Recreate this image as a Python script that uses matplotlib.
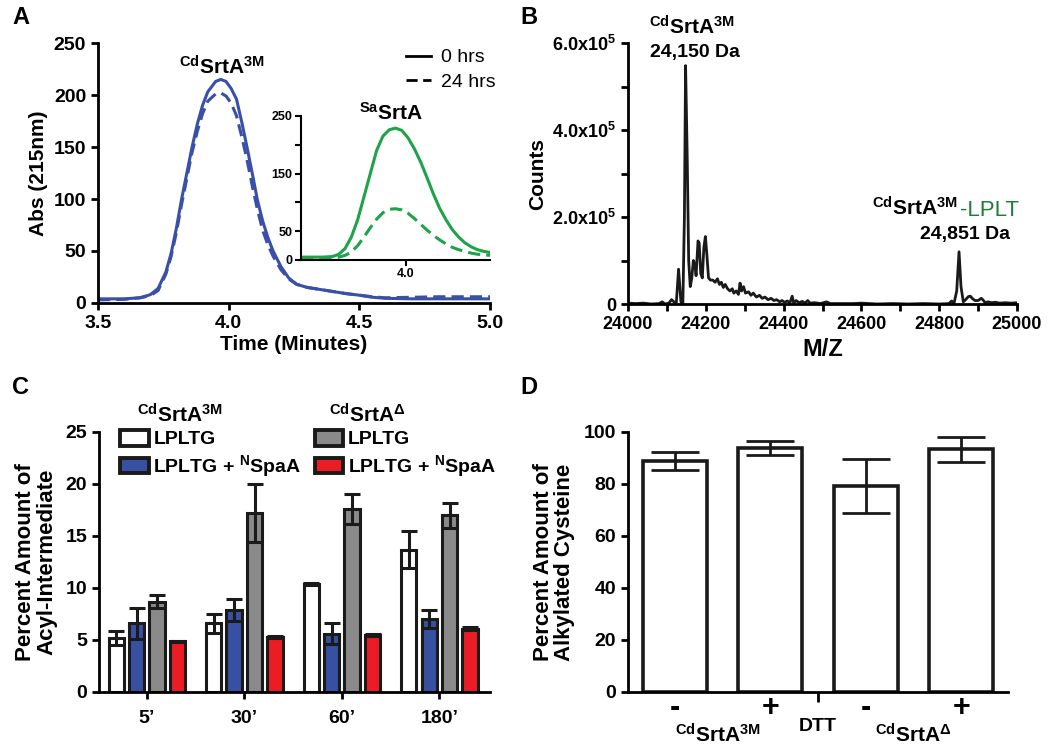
import numpy as np
import matplotlib
matplotlib.use('Agg')
import matplotlib.pyplot as plt
from matplotlib.lines import Line2D
from matplotlib.patches import Patch

plt.rcParams['font.family'] = ['Liberation Sans', 'DejaVu Sans']
plt.rcParams['font.weight'] = 'bold'
plt.rcParams['axes.labelweight'] = 'bold'
plt.rcParams['mathtext.fontset'] = 'custom'
plt.rcParams['mathtext.rm'] = 'Liberation Sans'
plt.rcParams['mathtext.bf'] = 'Liberation Sans:bold'
plt.rcParams['mathtext.default'] = 'bf'

## ---------- data: panel A (HPLC traces) ----------
a_time_0h = [3.50, 3.60, 3.66, 3.70, 3.73, 3.76, 3.78, 3.80, 3.82, 3.84, 3.86, 3.88, 3.90,
             3.92, 3.95, 3.97, 3.99, 4.01, 4.03, 4.05, 4.07, 4.09, 4.11, 4.13, 4.15, 4.17,
             4.20, 4.23, 4.26, 4.30, 4.35, 4.40, 4.45, 4.50, 4.55, 4.60, 4.70, 4.80, 4.90, 5.00]
a_abs_0h = [4, 4, 5, 8, 14, 30, 48, 72, 100, 125, 150, 172, 190,
            203, 213, 215, 213, 206, 196, 174, 150, 125, 99, 79, 63, 50,
            35, 24, 18, 15, 13, 11, 9, 7.5, 5.5, 4.5, 4, 4, 4, 4]
a_time_24h = a_time_0h
a_abs_24h = [3, 3.5, 5, 7, 12, 28, 45, 68, 95, 120, 145, 165, 182,
             194, 201, 202, 199, 192, 180, 160, 138, 113, 90, 70, 56, 45,
             32, 23, 18, 15, 13, 11, 9, 7.5, 6, 5, 5.5, 6, 6, 6]

sa_time = [3.50, 3.60, 3.65, 3.68, 3.71, 3.74, 3.77, 3.80, 3.83, 3.86, 3.89, 3.92, 3.95,
           3.98, 4.01, 4.04, 4.07, 4.10, 4.13, 4.16, 4.19, 4.22, 4.25, 4.28, 4.31, 4.34,
           4.37, 4.40]
sa_abs_0h = [5, 5, 6, 10, 20, 40, 70, 110, 150, 190, 215, 226, 229,
             225, 212, 193, 170, 143, 115, 90, 70, 53, 40, 30, 23, 18,
             15, 13]
sa_abs_24h = [3, 3, 4, 5, 8, 14, 25, 40, 56, 71, 82, 88, 89,
              87, 81, 72, 62, 52, 43, 35, 28, 22, 18, 15, 12, 10,
              9, 8]

## ---------- data: panel B (mass spectrum, counts in 1e5) ----------
ms_mz = [24000, 24020, 24040, 24060, 24080, 24088, 24095, 24105, 24112, 24118, 24124, 24130,
         24136, 24141, 24145, 24148, 24152, 24156, 24160, 24164, 24168, 24172, 24175, 24180,
         24183, 24187, 24191, 24195, 24199, 24203, 24207, 24212, 24218, 24224, 24230, 24235,
         24240, 24245, 24250, 24256, 24262, 24268, 24272, 24278, 24284, 24288, 24292, 24297,
         24302, 24310, 24316, 24322, 24330, 24338, 24345, 24352, 24360, 24368, 24375, 24382,
         24390, 24396, 24402, 24410, 24416, 24422, 24426, 24432, 24440, 24448, 24455, 24462,
         24468, 24480, 24495, 24510, 24520, 24550, 24580, 24600, 24640, 24680, 24720, 24760,
         24800, 24825, 24832, 24838, 24845, 24851, 24856, 24862, 24868, 24875, 24880, 24886,
         24892, 24900, 24908, 24912, 24918, 24925, 24935, 24945, 24955, 24970, 24985, 25000]
ms_counts = [0.02, 0.01, 0.02, 0.0, 0.01, 0.05, 0.0, 0.02, 0.1, 0.05, 0.0, 0.8,
             0.05, 0.0, 2.0, 5.48, 3.5, 1.0, 0.4, 0.6, 1.0, 0.9, 0.65, 1.45,
             1.4, 0.7, 0.6, 1.3, 1.55, 1.1, 0.6, 0.55, 0.55, 0.5, 0.58, 0.45,
             0.5, 0.38, 0.45, 0.35, 0.3, 0.35, 0.25, 0.3, 0.22, 0.48, 0.3, 0.4,
             0.25, 0.28, 0.2, 0.25, 0.16, 0.2, 0.13, 0.16, 0.1, 0.13, 0.08, 0.1,
             0.05, 0.08, 0.04, 0.07, 0.02, 0.18, 0.02, 0.08, 0.03, 0.06, 0.02, 0.08,
             0.02, 0.03, 0.01, 0.05, 0.01, 0.01, 0.01, 0.02, 0.0, 0.01, 0.0, 0.01,
             0.0, 0.01, 0.07, 0.01, 0.3, 1.2, 0.4, 0.05, 0.1, 0.17, 0.18, 0.12,
             0.08, 0.08, 0.13, 0.1, 0.03, 0.05, 0.03, 0.04, 0.02, 0.03, 0.02, 0.03]

## ---------- data: panel C (acyl-intermediate) ----------
c_times = ["5\u2019", "30\u2019", "60\u2019", "180\u2019"]
c_3m_lpltg = [5.2, 6.6, 10.35, 13.7]
c_3m_lpltg_err = [0.7, 0.9, 0.1, 1.8]
c_3m_spaa = [6.6, 7.9, 5.6, 7.0]
c_3m_spaa_err = [1.5, 1.05, 1.0, 0.85]
c_d_lpltg = [8.7, 17.2, 17.6, 17.0]
c_d_lpltg_err = [0.65, 2.8, 1.4, 1.2]
c_d_spaa = [4.87, 5.3, 5.5, 6.1]
c_d_spaa_err = [0.05, 0.1, 0.1, 0.15]

## ---------- data: panel D (alkylated cysteine) ----------
d_signs = ["-", "+", "-", "+"]
d_values = [88.9, 93.8, 79.3, 93.3]
d_errs = [3.5, 2.7, 10.5, 4.9]

W, H = 1050, 746
fig = plt.figure(figsize=(W / 100, H / 100), dpi=100)

def px_axes(l, t, r, b):
    return fig.add_axes([l / W, 1 - b / H, (r - l) / W, (b - t) / H])

def style(ax, lw=2.0, fs=12):
    for s in ['top', 'right']:
        ax.spines[s].set_visible(False)
    for s in ['left', 'bottom']:
        ax.spines[s].set_linewidth(lw)
    ax.tick_params(width=lw, length=5, labelsize=fs, direction='out')
    for t in ax.get_xticklabels() + ax.get_yticklabels():
        t.set_fontweight('bold')

cd3m = r'$^{Cd}$SrtA$^{3M}$'
cdd = r'$^{Cd}$SrtA$^{\mathrm{\Delta}}$'

# ================= Panel A =================
axA = px_axes(98, 43, 490, 303)
blue = '#3a4fa8'
axA.plot(a_time_0h, a_abs_0h, color=blue, lw=2.2)
axA.plot(a_time_24h, a_abs_24h, color=blue, lw=2.2, ls=(0, (4, 2)))
axA.set_xlim(3.5, 5.0)
axA.set_ylim(0, 250)
axA.set_xticks([3.5, 4.0, 4.5, 5.0])
axA.set_yticks([0, 50, 100, 150, 200, 250])
axA.set_xlabel('Time (Minutes)', fontsize=15, labelpad=2)
axA.set_ylabel('Abs (215nm)', fontsize=15, labelpad=4)
style(axA, fs=14)
axA.text(3.975, 227, cd3m, fontsize=15, ha='center', va='center')
handles = [Line2D([], [], color='black', lw=2), Line2D([], [], color='black', lw=2, ls=(0, (4, 2)))]
legA = axA.legend(handles, ['0 hrs', '24 hrs'], loc='upper right', bbox_to_anchor=(1.06, 1.045),
                  frameon=False, handlelength=1.25, handletextpad=0.55, labelspacing=0.35,
                  prop={'size': 14, 'weight': 'normal'})

axI = px_axes(301, 116, 490, 260)
green = '#1fa24a'
axI.plot(sa_time, sa_abs_0h, color=green, lw=2.2)
axI.plot(sa_time, sa_abs_24h, color=green, lw=2.2, ls=(0, (4, 2)))
axI.set_xlim(3.5, 4.4)
axI.set_ylim(0, 250)
axI.set_xticks([4.0])
axI.set_xticklabels(['4.0'])
axI.set_yticks([0, 50, 100, 150, 200, 250])
axI.set_yticklabels(['0', '50', '', '150', '', '250'])
style(axI, lw=1.5, fs=9)
axI.tick_params(length=4, pad=2)
axI.text(3.93, 255, r'$^{Sa}$SrtA', fontsize=15, ha='center', va='center', clip_on=False)

# ================= Panel B =================
axB = px_axes(628, 43, 1017, 304)
axB.plot(ms_mz, np.array(ms_counts) * 1e5, color='#1a1a1a', lw=2.0)
axB.set_xlim(24000, 25000)
axB.set_ylim(0, 6e5)
axB.set_xticks(np.arange(24000, 25001, 100))
axB.set_xticklabels([str(v) if v % 200 == 0 else '' for v in range(24000, 25001, 100)])
axB.set_yticks(np.arange(0, 6.01e5, 1e5))
axB.set_yticklabels(['0', '', r'2.0x10$^{5}$', '', r'4.0x10$^{5}$', '', r'6.0x10$^{5}$'])
axB.set_xlabel('M/Z', fontsize=17, labelpad=4)
axB.set_ylabel('Counts', fontsize=15, labelpad=4)
style(axB, fs=13)
axB.text(24164, 6.37e5, cd3m, fontsize=15, ha='center', va='center', clip_on=False)
axB.text(24172, 5.79e5, '24,150 Da', fontsize=14, ha='center', va='center', clip_on=False)
axB.text(24848, 2.21e5, cd3m, fontsize=15, ha='right', va='center')
axB.text(24853, 2.15e5, '-LPLT', fontsize=16, ha='left', va='center', color='#1e7d3a',
         fontweight='normal', clip_on=False)
axB.text(24866, 1.59e5, '24,851 Da', fontsize=14, ha='center', va='center')

# ================= Panel C =================
axC = px_axes(99, 432, 490, 692)
x = np.arange(len(c_times))
bw = 0.155
offs = [-0.315, -0.105, 0.105, 0.315]
series = [(c_3m_lpltg, c_3m_lpltg_err, 'white'),
          (c_3m_spaa, c_3m_spaa_err, '#3850a2'),
          (c_d_lpltg, c_d_lpltg_err, '#8a8a8a'),
          (c_d_spaa, c_d_spaa_err, '#ec1c24')]
for (vals, errs, col), off in zip(series, offs):
    axC.bar(x + off, vals, bw, color=col, edgecolor='#1a1a1a', linewidth=2.2, zorder=2)
    axC.errorbar(x + off, vals, yerr=errs, fmt='none', ecolor='#1a1a1a', elinewidth=2.2,
                 capsize=6, capthick=2.2, zorder=3)
axC.set_xlim(-0.49, 3.52)
axC.set_ylim(0, 25)
axC.set_xticks(x)
axC.set_xticklabels(c_times)
axC.set_yticks([0, 5, 10, 15, 20, 25])
axC.set_ylabel('Percent Amount of\nAcyl-Intermediate', fontsize=16, labelpad=6, linespacing=1.0)
style(axC, fs=14)
axC.tick_params(axis='x', pad=8)
legC = axC.legend([Patch(facecolor=s[2], edgecolor='#1a1a1a', linewidth=2.8) for s in series],
                  ['LPLTG', r'LPLTG + $^{N}$SpaA', 'LPLTG', r'LPLTG + $^{N}$SpaA'],
                  ncol=2, loc='upper left', bbox_to_anchor=(0.01, 1.075), frameon=False,
                  handlelength=1.45, handleheight=0.85, handletextpad=0.25, columnspacing=0.7,
                  labelspacing=0.25, prop={'size': 14, 'weight': 'bold'})
axC.text(0.207, 1.065, cd3m, transform=axC.transAxes, fontsize=15, ha='center', va='center')
axC.text(0.685, 1.065, cdd, transform=axC.transAxes, fontsize=15, ha='center', va='center')

# ================= Panel D =================
axD = px_axes(628, 432, 1008, 692)
xd = np.arange(len(d_values))
axD.bar(xd, d_values, 0.67, color='white', edgecolor='#1a1a1a', linewidth=2.6, zorder=2)
axD.errorbar(xd, d_values, yerr=d_errs, fmt='none', ecolor='#1a1a1a', elinewidth=2,
             capsize=17, capthick=2, zorder=3)
axD.set_xlim(-0.49, 3.49)
axD.set_ylim(0, 100)
axD.set_yticks([0, 20, 40, 60, 80, 100])
axD.set_xticks([1.5])
axD.set_xticklabels(['DTT'])
axD.set_xticks(xd, minor=True)
axD.set_xticklabels(d_signs, minor=True)
axD.set_ylabel('Percent Amount of\nAlkylated Cysteine', fontsize=16, labelpad=6, linespacing=1.0)
style(axD, fs=14)
axD.tick_params(axis='x', which='major', length=7, pad=12, labelsize=14)
axD.tick_params(axis='x', which='minor', length=0, pad=1, labelsize=22)
for t in axD.get_xticklabels(minor=True):
    t.set_fontweight('bold')
tr = axD.get_xaxis_transform()
axD.text(0.45, -0.165, cd3m, transform=tr, fontsize=15, ha='center', va='center')
axD.text(2.5, -0.165, cdd, transform=tr, fontsize=15, ha='center', va='center')

# panel letters
for lbl, (px, py) in zip('ABCD', [(12, 18), (520, 18), (12, 388), (520, 388)]):
    fig.text(px / W, 1 - py / H, lbl, fontsize=17, fontweight='bold', ha='left', va='center')

fig.savefig('out.png', dpi=100)
